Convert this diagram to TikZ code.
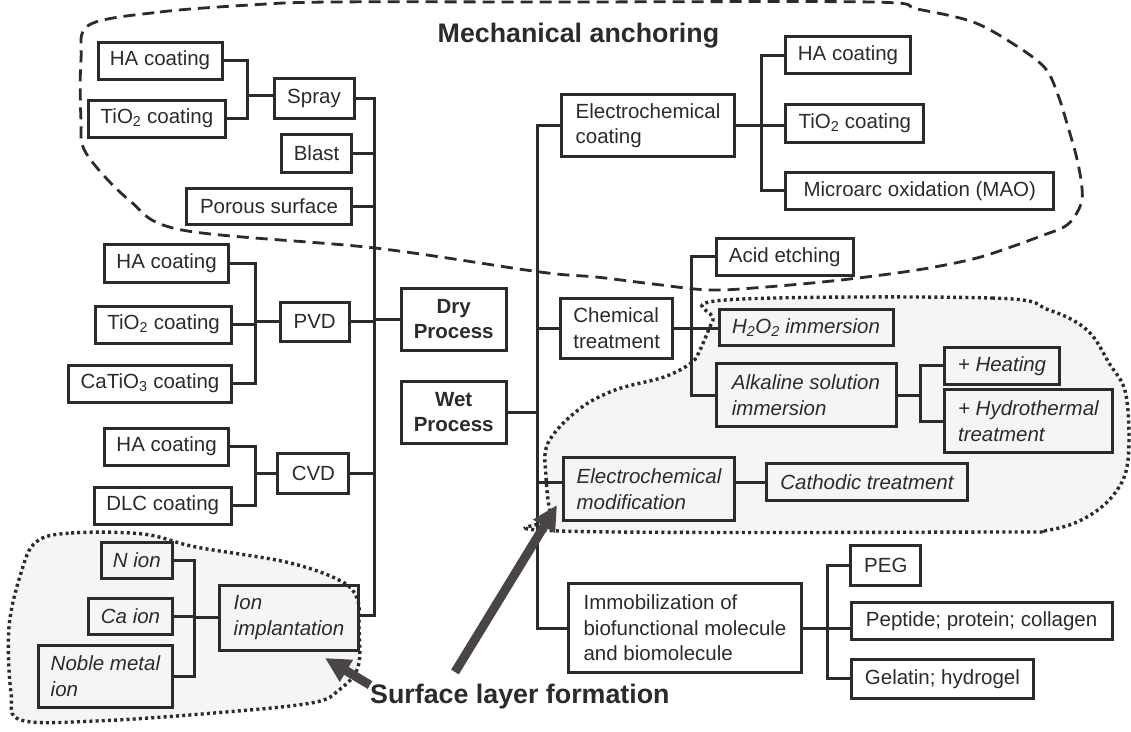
\documentclass[tikz,border=0pt]{standalone}
\usepackage{fontspec}
\setmainfont{Liberation Sans}
\usetikzlibrary{arrows.meta}
\definecolor{ink}{HTML}{2B2B2B}
\definecolor{arrowgray}{HTML}{4A4545}
\begin{document}
\begin{tikzpicture}[x=1pt,y=-1pt,
 box/.style={draw=ink, line width=3pt, inner sep=0pt, text=ink, font=\fontsize{20.5}{25.5}\selectfont, minimum height=37pt},
 ibox/.style={box, font=\itshape\fontsize{20.5}{25.5}\selectfont},
 bbox/.style={box, font=\bfseries\fontsize{20.5}{25.5}\selectfont, align=center},
 conn/.style={draw=ink, line width=3pt},
 dashreg/.style={draw=ink, line width=2.8pt, dash pattern=on 12pt off 7pt},
 dotreg/.style={draw=ink, line width=3.4pt, dash pattern=on 3pt off 3.2pt, fill=black!4},
 bigarrow/.style={draw=arrowgray, line width=9pt, -{Triangle[length=25pt,width=24pt]}},
 heading/.style={text=ink, font=\bfseries\fontsize{26.8}{30}\selectfont, inner sep=0pt, anchor=base west}
]
\useasboundingbox[fill=white] (0,0) rectangle (1131,731);

% regions
\draw[dotreg] plot[smooth cycle, tension=0.6] coordinates {(36,542) (71,533) (143,534) (196,547) (286,562) (339,580) (357,598) (359,627) (358,667) (339,690) (311,703) (214,713) (96,721) (21,720) (11,693) (9,627) (21,573)};
\draw[dotreg] plot[smooth cycle, tension=0.6] coordinates {(725,300) (992,298) (1049,310) (1087,330) (1109,363) (1126,395) (1128,460) (1115,493) (1087,517) (1049,530) (992,532) (560,531) (551,517) (546,477) (548,443) (578,410) (615,390) (664,377) (691,363) (700,350) (713,320)};
\draw[dashreg] plot[smooth cycle, tension=0.55] coordinates {(89,25) (160,12) (250,5) (330,2) (560,2) (871,2) (917,9) (973,22) (1015,45) (1045,68) (1058,95) (1068,127) (1076,155) (1081,180) (1082,200) (1075,216) (1064,227) (1041,236) (1011,247) (973,259) (917,270) (841,280) (766,287) (710,290) (653,284) (596,277) (540,272) (375,248) (182,230) (129,200) (86,153) (81,120) (81,60)};

% headings
\node[heading] (mech) at (437.5,42) {Mechanical anchoring};
\node[heading] (slf) at (370,703) {Surface layer formation};

% left side nodes
\node[box, minimum width=124pt] (ha1) at (160,60.5) {HA coating};
\node[box, minimum width=137pt] (ti1) at (157,118.5) {TiO\textsubscript{2} coating};
\node[box, minimum width=80pt, minimum height=40pt] (spray) at (314,98) {Spray};
\node[box, minimum width=70pt, minimum height=38pt] (blast) at (316.6,153) {Blast};
\node[box, minimum width=165pt, minimum height=36pt] (porous) at (269,206) {Porous surface};
\node[box, minimum width=124pt, minimum height=38pt] (ha2) at (166.6,263) {HA coating};
\node[box, minimum width=136pt] (ti2) at (163.6,324.5) {TiO\textsubscript{2} coating};
\node[box, minimum width=163pt] (catio) at (150,383.5) {CaTiO\textsubscript{3} coating};
\node[box, minimum width=69pt, minimum height=39pt] (pvd) at (314.7,321.5) {PVD};
\node[box, minimum width=124pt] (ha3) at (166.6,446.5) {HA coating};
\node[box, minimum width=137pt] (dlc) at (162.7,505.5) {DLC coating};
\node[box, minimum width=71pt, minimum height=40pt] (cvd) at (313.4,473) {CVD};
\node[ibox, minimum width=71.5pt, minimum height=36pt] (nion) at (136.8,560) {N ion};
\node[ibox, minimum width=84pt, minimum height=36pt] (caion) at (130.5,616) {Ca ion};
\node[ibox, minimum width=134pt, minimum height=62pt, align=left] (noble) at (105.4,676) {Noble metal\\ion};
\node[ibox, minimum width=138.6pt, minimum height=65pt, align=left] (ionimp) at (289,617.5) {Ion\\implantation};
\node[bbox, minimum width=105.4pt, minimum height=62pt] (dry) at (453.7,319) {Dry\\Process};
\node[bbox, minimum width=105.4pt, minimum height=62pt] (wet) at (453.7,412) {Wet\\Process};

% right side nodes
\node[box, minimum width=173.4pt, minimum height=62.4pt, align=left] (ecoat) at (648,125.5) {Electrochemical\\coating};
\node[box, minimum width=124.7pt] (ha4) at (848,55.3) {HA coating};
\node[box, minimum width=138pt, minimum height=38pt] (ti4) at (854.8,123.3) {TiO\textsubscript{2} coating};
\node[box, minimum width=268pt] (mao) at (919.8,190.8) {Microarc oxidation (MAO)};
\node[box, minimum width=137.6pt] (acid) at (784.8,256.7) {Acid etching};
\node[box, minimum width=112pt, minimum height=60pt, align=left] (chem) at (616.7,328.3) {Chemical\\treatment};
\node[ibox, minimum width=174pt, minimum height=36pt] (hoo) at (806,327.5) {H\textsubscript{2}O\textsubscript{2} immersion};
\node[ibox, minimum width=180pt, minimum height=63pt, align=left] (alk) at (806,395) {Alkaline solution\\immersion};
\node[ibox, minimum width=115pt] (heat) at (1002,365.7) {+ Heating};
\node[ibox, minimum width=167.7pt, minimum height=62.7pt, align=left] (hydro) at (1028.4,421.3) {+ Hydrothermal\\treatment};
\node[ibox, minimum width=171.5pt, minimum height=62.3pt, align=left] (emod) at (649,489) {Electrochemical\\modification};
\node[ibox, minimum width=201.6pt] (cath) at (867,482.3) {Cathodic treatment};
\node[box, minimum width=233.7pt, minimum height=89.3pt, align=left] (immob) at (685,628) {Immobilization of\\biofunctional molecule\\and biomolecule};
\node[box, minimum width=69.7pt, minimum height=40pt] (peg) at (885.8,565.8) {PEG};
\node[box, minimum width=261pt] (pep) at (981.6,620.7) {Peptide; protein; collagen};
\node[box, minimum width=182.8pt, minimum height=39pt] (gel) at (942.4,678.7) {Gelatin; hydrogel};

% bus coordinates
\coordinate (sb) at (247.5,95);
\coordinate (dbt) at (374.3,98);
\coordinate (dbb) at (374.3,615);
\coordinate (pb) at (255,321.5);
\coordinate (cb) at (255,473);
\coordinate (ib) at (194.6,617.5);
\coordinate (wbt) at (537,125.5);
\coordinate (wbb) at (537,628);
\coordinate (eb) at (761.3,125.5);
\coordinate (chb) at (691.5,328.3);
\coordinate (ab) at (920,395);
\coordinate (mb) at (827.2,628);

% left connectors
\draw[conn] (ha1.east) -| (sb) |- (ti1.east);
\draw[conn] (sb) -- (sb -| spray.west);
\draw[conn] (spray.east) -- (spray.east -| dbt) -- (dbb) -- (dbb -| ionimp.east);
\draw[conn] (blast.east) -- (blast.east -| dbt);
\draw[conn] (porous.east) -- (porous.east -| dbt);
\draw[conn] (pvd.east) -- (pvd.east -| dbt);
\draw[conn] (cvd.east) -- (cvd.east -| dbt);
\draw[conn] (dry.west) -- (dry.west -| dbt);
\draw[conn] (ha2.east) -| (pb) |- (catio.east);
\draw[conn] (ti2.east) -- (ti2.east -| pb);
\draw[conn] (pb) -- (pvd.west);
\draw[conn] (ha3.east) -| (cb) |- (dlc.east);
\draw[conn] (cb) -- (cvd.west);
\draw[conn] (nion.east) -| (ib) |- (noble.east);
\draw[conn] (caion.east) -- (caion.east -| ib);
\draw[conn] (ib) -- (ionimp.west);

% right connectors
\draw[conn] (ecoat.west) -- (wbt) -- (wbb) -- (immob.west);
\draw[conn] (chem.west) -- (chem.west -| wbt);
\draw[conn] (wet.east) -- (wet.east -| wbt);
\draw[conn] (cath.west -| emod.west) -- (cath.west -| wbt);
\draw[conn] (cath.west -| emod.east) -- (cath.west);
\draw[conn] (ha4.west) -| (eb) |- (mao.west);
\draw[conn] (ecoat.east) -- (eb -| ti4.west);
\draw[conn] (acid.west) -| (chb) |- (alk.west);
\draw[conn] (chem.east) -- (chb -| hoo.west);
\draw[conn] (heat.west) -| (ab) |- (hydro.west);
\draw[conn] (alk.east) -- (ab);
\draw[conn] (peg.west) -| (mb) |- (gel.west);
\draw[conn] (immob.east) -- (mb -| pep.west);

% arrows
\coordinate (a1s) at (455,672);
\coordinate (a1e) at (557,505);
\coordinate (a2s) at (370,685);
\coordinate (a2e) at (325,658);
\draw[bigarrow] (a1s) -- (a1e);
\draw[bigarrow] (a2s) -- (a2e);
\end{tikzpicture}
\end{document}
